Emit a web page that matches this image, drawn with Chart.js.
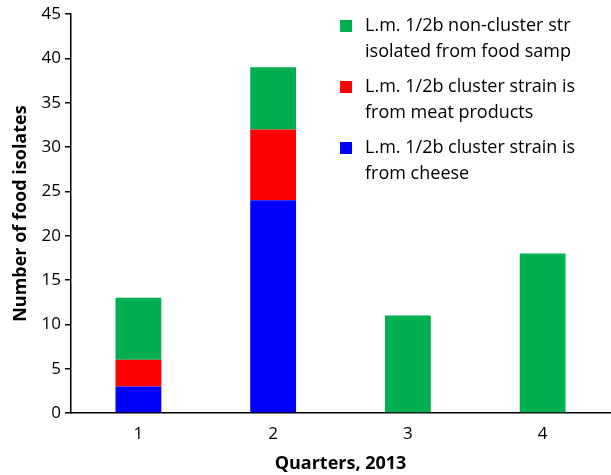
<!DOCTYPE html>
<html>
<head>
<meta charset="utf-8">
<script src="https://cdn.jsdelivr.net/npm/chart.js@4.4.0/dist/chart.umd.min.js"></script>
<style>
  html, body { margin: 0; padding: 0; background: #fff; }
  #wrap { width: 611px; height: 475px; }
</style>
</head>
<body>
<div id="wrap"><canvas id="quarterChart"></canvas></div>
<script>
const quarters = ['1', '2', '3', '4'];
const cheeseCluster = [3, 24, 0, 0];
const meatCluster = [3, 8, 0, 0];
const nonCluster = [7, 7, 11, 18];

const legendLines = {
    nonCluster: ['L.m. 1/2b non-cluster str', 'isolated from food samp'],
    meatCluster: ['L.m. 1/2b cluster strain is', 'from meat products'],
    cheeseCluster: ['L.m. 1/2b cluster strain is', 'from cheese']
};

const FONT = 'Open Sans';

// legend drawn by hand: two lines per entry, top-right inside the plot
const sideLegendPlugin = {
    id: 'sideLegend',
    afterDraw: (chart) => {
        const { ctx, chartArea } = chart;
        const order = [2, 1, 0];
        let y = 26;
        ctx.save();
        ctx.font = '18px "' + FONT + '"';
        ctx.textBaseline = 'middle';
        ctx.textAlign = 'left';
        order.forEach(i => {
            const ds = chart.data.datasets[i];
            ctx.fillStyle = ds.backgroundColor;
            ctx.fillRect(chartArea.left + 269, y - 6, 12, 12);
            ctx.fillStyle = '#000';
            ds.legendText.forEach((line, k) => {
                ctx.fillText(line, chartArea.left + 294, y + k * 26);
            });
            y += 61;
        });
        ctx.restore();
    }
};

const ctx = document.getElementById('quarterChart').getContext('2d');
new Chart(ctx, {
    type: 'bar',
    data: {
        labels: quarters,
        datasets: [{
            label: 'cheese',
            data: cheeseCluster,
            backgroundColor: '#0000FF',
            legendText: legendLines.cheeseCluster
        },
        {
            label: 'meat',
            data: meatCluster,
            backgroundColor: '#FF0000',
            legendText: legendLines.meatCluster
        },
        {
            label: 'non-cluster',
            data: nonCluster,
            backgroundColor: '#00B050',
            legendText: legendLines.nonCluster
        }]
    },
    options: {
        responsive: true,
        maintainAspectRatio: false,
        animation: false,
        datasets: {
            bar: {
                barPercentage: 0.68,
                categoryPercentage: 0.5,
                borderWidth: 0
            }
        },
        layout: {
            padding: { top: 7, right: 1, left: 10, bottom: 0 }
        },
        scales: {
            x: {
                stacked: true,
                grid: { display: false },
                border: { display: true, color: '#000', width: 1.5 },
                ticks: {
                    color: '#000',
                    font: { family: FONT, size: 17 },
                    padding: 3
                },
                title: {
                    display: true,
                    text: 'Quarters, 2013',
                    color: '#000',
                    font: { family: FONT, size: 18, weight: 'bold' },
                    padding: { top: 6, bottom: 0 }
                }
            },
            y: {
                stacked: true,
                min: 0,
                max: 45,
                grid: {
                    drawOnChartArea: false,
                    drawTicks: true,
                    tickLength: 6,
                    color: '#000',
                    lineWidth: 1.5
                },
                border: { display: true, color: '#000', width: 1.5 },
                ticks: {
                    stepSize: 5,
                    color: '#000',
                    font: { family: FONT, size: 17 },
                    padding: 4
                },
                title: {
                    display: true,
                    text: 'Number of food isolates',
                    color: '#000',
                    font: { family: FONT, size: 18, weight: 'bold' },
                    padding: { top: 0, bottom: 6 }
                }
            }
        },
        plugins: {
            legend: { display: false },
            tooltip: { enabled: false }
        }
    },
    plugins: [sideLegendPlugin]
});
</script>
</body>
</html>
